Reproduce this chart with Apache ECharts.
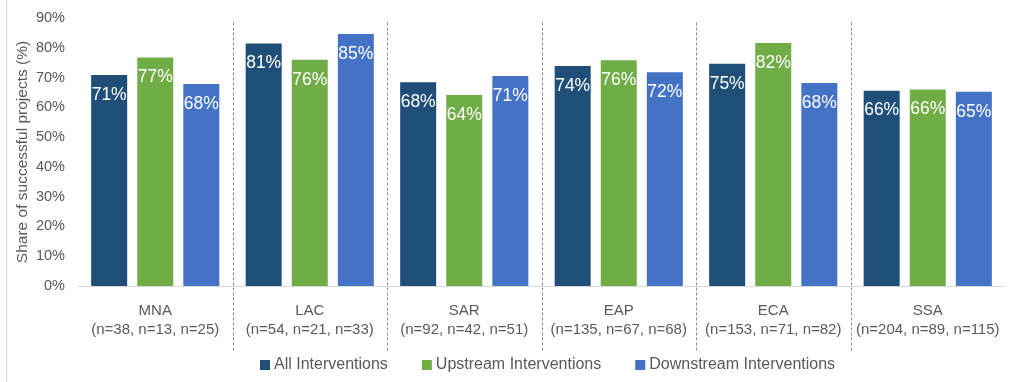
<!DOCTYPE html>
<html><head><meta charset="utf-8">
<script src="https://cdn.jsdelivr.net/npm/echarts@6/dist/echarts.min.js"></script>
<style>html,body{margin:0;padding:0;background:#fff}#c{width:1009px;height:382px}</style>
</head><body><div id="c"></div>
<script>
const regions = ['MNA','LAC','SAR','EAP','ECA','SSA'];
const counts = ['(n=38, n=13, n=25)','(n=54, n=21, n=33)','(n=92, n=42, n=51)','(n=135, n=67, n=68)','(n=153, n=71, n=82)','(n=204, n=89, n=115)'];
const allInterventions = [70.9, 81.4, 68.4, 73.9, 74.6, 65.6];
const upstream = [76.7, 76.0, 64.1, 75.8, 81.6, 66.0];
const downstream = [67.8, 84.6, 70.5, 71.8, 68.2, 65.2];
const seriesNames = ['All Interventions','Upstream Interventions','Downstream Interventions'];
const colors = ['#1F4E79','#70AD47','#4472C4'];

const font = 'Liberation Sans';
const chart = echarts.init(document.getElementById('c'));
const lbl = {show:true, position:'insideTop', distance:11, color:'#fff', fontSize:17.5, fontFamily:font,
  formatter: p => Math.round(p.value) + '%'};
const mk = (name, data, i) => ({name, type:'bar', data, barWidth:36, barGap:'28%',
  itemStyle:{color:colors[i]}, label:lbl, animation:false});
chart.setOption({
  animation:false,
  textStyle:{fontFamily:font},
  grid:{left:78, right:4, top:18, bottom:96},
  legend:{data:seriesNames, bottom:4, left:255, itemWidth:10, itemHeight:10, itemGap:34,
    icon:'rect', textStyle:{color:'#595959', fontSize:16, fontFamily:font, padding:[0,0,0,-1]}},
  xAxis:{type:'category', data:regions.map((r,i)=>r+'\n'+counts[i]),
    axisLine:{lineStyle:{color:'#D9D9D9'}}, axisTick:{show:false},
    axisLabel:{color:'#595959', fontSize:15, lineHeight:19, margin:15, interval:0}},
  yAxis:{type:'value', min:0, max:90, interval:10,
    name:'Share of successful projects (%)', nameLocation:'middle', nameGap:47, nameMoveOverlap:false,
    nameTextStyle:{color:'#595959', fontSize:15.5},
    axisLabel:{formatter:'{value}%', color:'#595959', fontSize:14.5, margin:13},
    splitLine:{show:false}, axisLine:{show:false}, axisTick:{show:false}},
  series:[mk(seriesNames[0], allInterventions, 0), mk(seriesNames[1], upstream, 1), mk(seriesNames[2], downstream, 2)]
});
const g = [];
const yTop = chart.convertToPixel({yAxisIndex:0}, 88.5);
for (let i = 0; i < regions.length - 1; i++) {
  const x = Math.round((chart.convertToPixel({xAxisIndex:0}, i) + chart.convertToPixel({xAxisIndex:0}, i+1)) / 2) + 0.5;
  g.push({type:'line', shape:{x1:x, y1:yTop, x2:x, y2:352}, style:{stroke:'#8C8C8C', lineWidth:1, lineDash:[3,2]}, silent:true});
}
g.push({type:'line', shape:{x1:6.5, y1:0, x2:6.5, y2:382}, style:{stroke:'#D9D9D9', lineWidth:1}, silent:true});
chart.setOption({graphic:g});
</script></body></html>
